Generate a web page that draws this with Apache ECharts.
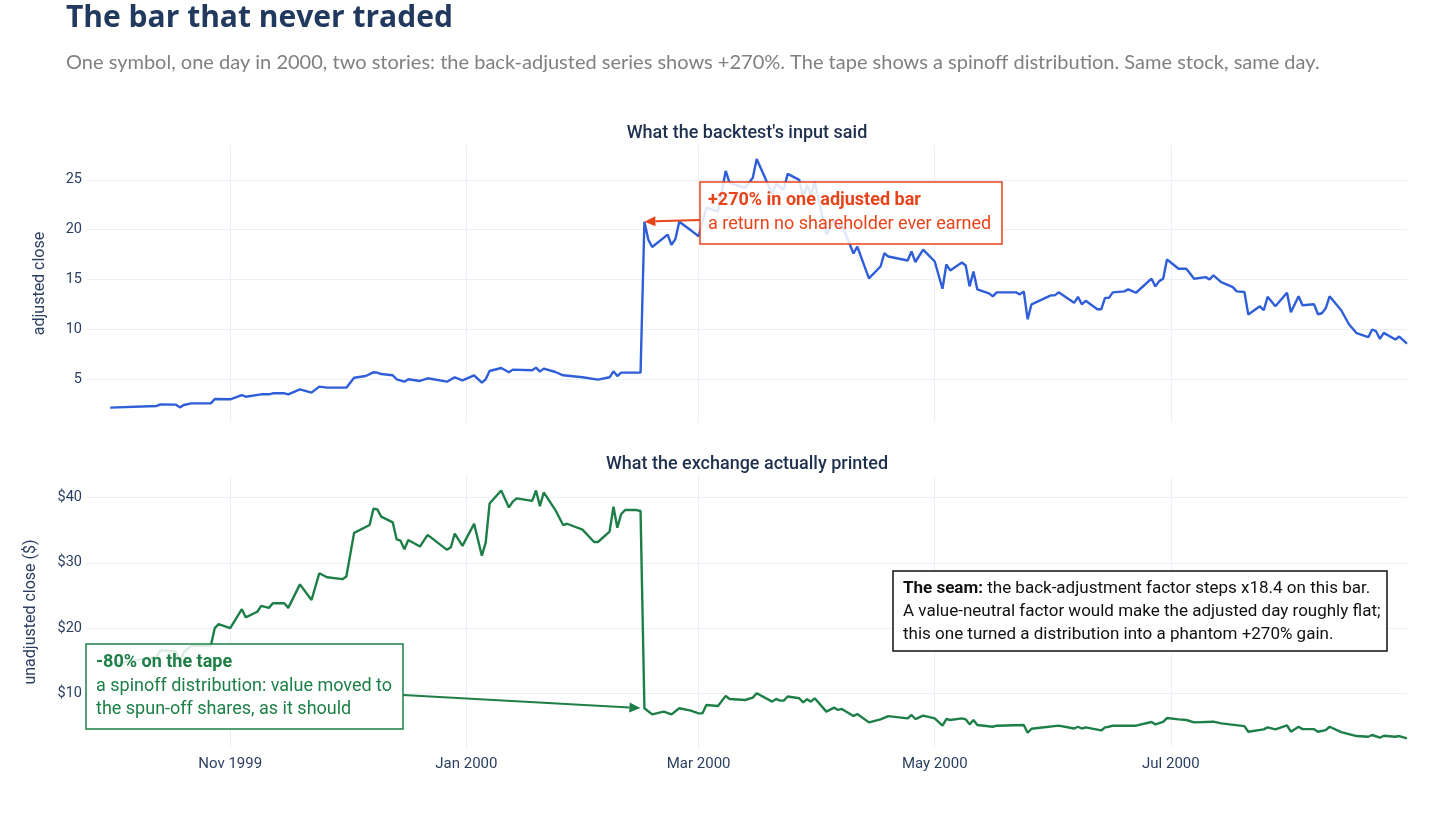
<!DOCTYPE html>
<html>
<head>
<meta charset="utf-8">
<title>The bar that never traded</title>
<script src="https://cdn.jsdelivr.net/npm/echarts@6/dist/echarts.min.js"></script>
<style>
  html, body { margin: 0; padding: 0; background: #fff; }
  #chart { width: 1456px; height: 819px; }
</style>
</head>
<body>
<div id="chart"></div>
<script>
// adjusted (back-adjusted) close
const adjDates = [
  '1999-10-01','1999-10-13','1999-10-14','1999-10-18','1999-10-19','1999-10-20','1999-10-22','1999-10-27','1999-10-28',
  '1999-11-01','1999-11-04','1999-11-05','1999-11-09','1999-11-11','1999-11-12','1999-11-15','1999-11-16','1999-11-19',
  '1999-11-22','1999-11-24','1999-11-26','1999-12-01','1999-12-03','1999-12-06','1999-12-08','1999-12-09','1999-12-10',
  '1999-12-13','1999-12-14','1999-12-16','1999-12-17','1999-12-20','1999-12-22','1999-12-27','1999-12-29','1999-12-31',
  '2000-01-03','2000-01-05','2000-01-06','2000-01-07','2000-01-10','2000-01-12','2000-01-13','2000-01-18','2000-01-19',
  '2000-01-20','2000-01-21','2000-01-24','2000-01-26','2000-01-31','2000-02-04','2000-02-07','2000-02-08','2000-02-09',
  '2000-02-10','2000-02-15','2000-02-16','2000-02-17','2000-02-18','2000-02-22','2000-02-23','2000-02-24','2000-02-25',
  '2000-02-28','2000-03-01','2000-03-03','2000-03-06','2000-03-08','2000-03-09','2000-03-13','2000-03-15','2000-03-16',
  '2000-03-20','2000-03-21','2000-03-23','2000-03-24','2000-03-27','2000-03-28','2000-03-29','2000-03-30','2000-03-31',
  '2000-04-03','2000-04-05','2000-04-06','2000-04-07','2000-04-10','2000-04-11','2000-04-14','2000-04-17','2000-04-18',
  '2000-04-19','2000-04-24','2000-04-25','2000-04-26','2000-04-28','2000-05-01','2000-05-03','2000-05-04','2000-05-05',
  '2000-05-08','2000-05-09','2000-05-10','2000-05-11','2000-05-12','2000-05-15','2000-05-16','2000-05-17','2000-05-22',
  '2000-05-23','2000-05-24','2000-05-25','2000-05-26','2000-05-31','2000-06-01','2000-06-02','2000-06-06','2000-06-07',
  '2000-06-08','2000-06-09','2000-06-12','2000-06-13','2000-06-14','2000-06-15','2000-06-16','2000-06-19','2000-06-20',
  '2000-06-22','2000-06-26','2000-06-27','2000-06-28','2000-06-29','2000-06-30','2000-07-03','2000-07-05','2000-07-07',
  '2000-07-10','2000-07-11','2000-07-12','2000-07-14','2000-07-17','2000-07-18','2000-07-20','2000-07-21','2000-07-24',
  '2000-07-25','2000-07-26','2000-07-28','2000-07-31','2000-08-01','2000-08-03','2000-08-04','2000-08-07','2000-08-08',
  '2000-08-09','2000-08-10','2000-08-11','2000-08-14','2000-08-16','2000-08-18','2000-08-21','2000-08-22','2000-08-23',
  '2000-08-24','2000-08-25','2000-08-28','2000-08-29','2000-08-31'
];
const adjClose = [
  2.12, 2.29, 2.45, 2.42, 2.15, 2.39, 2.55, 2.55, 2.99,
  2.96, 3.39, 3.22, 3.46, 3.46, 3.56, 3.56, 3.46, 3.96,
  3.63, 4.23, 4.13, 4.13, 5.13, 5.30, 5.67, 5.64, 5.50,
  5.37, 4.97, 4.73, 4.97, 4.80, 5.07, 4.73, 5.17, 4.87,
  5.37, 4.63, 4.97, 5.80, 6.10, 5.67, 5.94, 5.87, 6.14,
  5.74, 6.04, 5.70, 5.37, 5.17, 4.93, 5.17, 5.77, 5.30,
  5.64, 5.64, 20.8, 19.0, 18.25, 19.5, 18.46, 19.06, 20.8,
  19.93, 19.33, 22.2, 21.8, 25.9, 24.7, 24.2, 25.2, 27.1,
  23.6, 24.6, 24.0, 25.6, 25.0, 23.3, 24.5, 23.5, 24.8,
  19.5, 21.0, 20.2, 20.5, 17.6, 18.3, 15.1, 16.3, 17.65,
  17.3, 16.9, 17.8, 16.75, 18.0, 16.8, 14.06, 16.5, 15.9,
  16.7, 16.4, 14.3, 15.8, 14.0, 13.6, 13.3, 13.7, 13.7,
  13.5, 13.8, 11.0, 12.5, 13.4, 13.4, 13.7, 12.65, 13.25,
  12.5, 12.85, 12.0, 12.0, 13.15, 13.15, 13.7, 13.8, 14.0,
  13.66, 15.07, 14.3, 14.83, 15.07, 17.0, 16.07, 16.07, 15.07,
  15.23, 15.0, 15.4, 14.73, 14.23, 13.8, 13.73, 11.48, 12.3,
  11.9, 13.26, 12.3, 13.66, 11.7, 13.3, 12.4, 12.5, 11.5,
  11.6, 12.1, 13.3, 11.9, 10.5, 9.6, 9.2, 9.97, 9.8,
  9.03, 9.63, 8.96, 9.26, 8.56
];

// unadjusted close as printed
const rawDates = [
  '1999-10-01','1999-10-13','1999-10-14','1999-10-18','1999-10-19','1999-10-20','1999-10-22','1999-10-27','1999-10-28',
  '1999-10-29','1999-11-01','1999-11-04','1999-11-05','1999-11-08','1999-11-09','1999-11-11','1999-11-12','1999-11-15',
  '1999-11-16','1999-11-19','1999-11-22','1999-11-24','1999-11-26','1999-11-30','1999-12-01','1999-12-03','1999-12-07',
  '1999-12-08','1999-12-09','1999-12-10','1999-12-13','1999-12-14','1999-12-15','1999-12-16','1999-12-17','1999-12-20',
  '1999-12-22','1999-12-27','1999-12-28','1999-12-29','1999-12-31','2000-01-03','2000-01-05','2000-01-06','2000-01-07',
  '2000-01-10','2000-01-12','2000-01-13','2000-01-14','2000-01-18','2000-01-19','2000-01-20','2000-01-21','2000-01-24',
  '2000-01-26','2000-01-27','2000-01-31','2000-02-03','2000-02-04','2000-02-07','2000-02-08','2000-02-09','2000-02-10',
  '2000-02-11','2000-02-14','2000-02-15','2000-02-16','2000-02-18','2000-02-21','2000-02-23','2000-02-25','2000-02-28',
  '2000-03-01','2000-03-02','2000-03-03','2000-03-06','2000-03-08','2000-03-09','2000-03-13','2000-03-15','2000-03-16',
  '2000-03-20','2000-03-21','2000-03-22','2000-03-23','2000-03-24','2000-03-27','2000-03-28','2000-03-29','2000-03-30',
  '2000-03-31','2000-04-03','2000-04-05','2000-04-06','2000-04-07','2000-04-10','2000-04-11','2000-04-14','2000-04-17',
  '2000-04-19','2000-04-24','2000-04-25','2000-04-26','2000-04-28','2000-05-01','2000-05-03','2000-05-04','2000-05-05',
  '2000-05-08','2000-05-09','2000-05-10','2000-05-11','2000-05-12','2000-05-16','2000-05-17','2000-05-24','2000-05-25',
  '2000-05-26','2000-06-02','2000-06-06','2000-06-07','2000-06-08','2000-06-09','2000-06-13','2000-06-14','2000-06-15',
  '2000-06-16','2000-06-22','2000-06-26','2000-06-27','2000-06-29','2000-06-30','2000-07-03','2000-07-05','2000-07-07',
  '2000-07-12','2000-07-14','2000-07-20','2000-07-21','2000-07-25','2000-07-26','2000-07-28','2000-07-31','2000-08-01',
  '2000-08-03','2000-08-04','2000-08-07','2000-08-08','2000-08-10','2000-08-11','2000-08-14','2000-08-18','2000-08-21',
  '2000-08-22','2000-08-24','2000-08-25','2000-08-28','2000-08-29','2000-08-31'
];
const rawClose = [
  14.4, 15.6, 16.6, 16.4, 14.7, 16.3, 17.3, 17.3, 20.0,
  20.6, 20.0, 22.9, 21.65, 22.5, 23.4, 23.1, 23.8, 23.8,
  23.1, 26.7, 24.3, 28.4, 27.8, 27.5, 27.9, 34.6, 35.8,
  38.3, 38.2, 37.1, 36.2, 33.6, 33.4, 32.1, 33.5, 32.5,
  34.3, 32.0, 32.4, 34.5, 32.6, 36.0, 31.1, 33.1, 39.1,
  41.1, 38.5, 39.4, 39.9, 39.5, 41.1, 38.7, 40.8, 38.1,
  35.8, 36.0, 35.1, 33.2, 33.2, 34.8, 38.6, 35.4, 37.5,
  38.1, 38.1, 37.95, 7.7, 6.77, 7.18, 6.77, 7.7, 7.33,
  6.92, 6.92, 8.2, 8.05, 9.6, 9.13, 8.97, 9.33, 10.0,
  8.72, 9.13, 8.87, 8.87, 9.5, 9.23, 8.6, 9.08, 8.72,
  9.23, 7.18, 7.8, 7.44, 7.6, 6.5, 6.82, 5.54, 6.0,
  6.5, 6.15, 6.67, 6.05, 6.56, 6.15, 5.03, 6.05, 5.9,
  6.15, 6.0, 5.23, 5.9, 5.13, 4.87, 5.03, 5.13, 3.95,
  4.56, 5.03, 4.6, 4.87, 4.6, 4.77, 4.3, 4.77, 4.87,
  5.03, 5.03, 5.6, 5.23, 5.6, 6.2, 6.0, 5.9, 5.54,
  5.64, 5.38, 4.97, 4.1, 4.46, 4.77, 4.46, 5.08, 4.1,
  4.87, 4.5, 4.5, 4.1, 4.36, 4.87, 4.05, 3.44, 3.33,
  3.6, 3.18, 3.49, 3.33, 3.44, 3.08
];

const seamDate = '2000-02-16';
const monthTicks = ['1999-11-01', '2000-01-01', '2000-03-01', '2000-05-01', '2000-07-01'];
const adjTicks = [5, 10, 15, 20, 25];
const rawTicks = [10, 20, 30, 40];
const monthNames = ['Jan','Feb','Mar','Apr','May','Jun','Jul','Aug','Sep','Oct','Nov','Dec'];

// dates become plain millisecond numbers on a value axis
function toTime(s) {
  let p = s.split('-');
  return Date.UTC(+p[0], +p[1] - 1, +p[2]);
}
function zip(dates, vals) {
  return dates.map((d, i) => [toTime(d), vals[i]]);
}

const FONT = 'Roboto, "Noto Sans", sans-serif';
const AXIS_COLOR = '#2a3f5f';
const GRID_COLOR = '#ebf0f8';
const BLUE = '#2f5ed8';
const GREEN = '#1d7f47';
const RED = '#e8441c';

let tickTimes = monthTicks.map(toTime);
let xMin = toTime('1999-09-25');
let xMax = toTime('2000-08-31');

function xAxisFor(gridIndex, showLabels) {
  return {
    type: 'value',
    gridIndex: gridIndex,
    min: xMin,
    max: xMax,
    axisLine: { show: false },
    axisTick: { show: false, customValues: tickTimes },
    splitLine: { show: true, lineStyle: { color: GRID_COLOR, width: 1 } },
    axisLabel: {
      show: showLabels,
      customValues: tickTimes,
      margin: 10,
      color: AXIS_COLOR,
      fontFamily: FONT,
      fontSize: 15,
      formatter: function (v) {
        let d = new Date(v);
        return monthNames[d.getUTCMonth()] + ' ' + d.getUTCFullYear();
      }
    }
  };
}

function yAxisFor(gridIndex, min, max, ticks, name, gap, prefix) {
  return {
    type: 'value',
    gridIndex: gridIndex,
    min: min,
    max: max,
    name: name,
    nameLocation: 'middle',
    nameGap: gap,
    nameTextStyle: { color: AXIS_COLOR, fontFamily: FONT, fontSize: 16 },
    axisLine: { show: false },
    axisTick: { show: false, customValues: ticks },
    splitLine: { show: true, lineStyle: { color: GRID_COLOR, width: 1 } },
    axisLabel: {
      customValues: ticks,
      margin: 5,
      color: AXIS_COLOR,
      fontFamily: FONT,
      fontSize: 14.5,
      formatter: function (v) { return prefix + v; }
    }
  };
}

let chart = echarts.init(document.getElementById('chart'));

let option = {
  animation: false,
  backgroundColor: '#ffffff',
  title: [
    {
      text: 'The bar that never traded',
      left: 66, top: 3, padding: 0,
      textStyle: { fontFamily: '"Open Sans", Lato, sans-serif', fontSize: 30, fontWeight: 'bold', color: '#21395d' }
    },
    {
      text: 'One symbol, one day in 2000, two stories: the back-adjusted series shows +270%. The tape shows a spinoff distribution. Same stock, same day.',
      left: 66, top: 53, padding: 0,
      textStyle: { fontFamily: 'Lato, "Open Sans", sans-serif', fontSize: 20, fontWeight: 'normal', color: '#808080' }
    },
    {
      text: "What the backtest's input said",
      left: 747, top: 124, padding: 0, textAlign: 'center',
      textStyle: { fontFamily: FONT, fontSize: 18, fontWeight: 500, color: '#1f2f4e' }
    },
    {
      text: 'What the exchange actually printed',
      left: 747, top: 455, padding: 0, textAlign: 'center',
      textStyle: { fontFamily: FONT, fontSize: 18, fontWeight: 500, color: '#1f2f4e' }
    }
  ],
  grid: [
    { left: 87, right: 49, top: 145, height: 277 },
    { left: 87, right: 49, top: 477, height: 270 }
  ],
  xAxis: [xAxisFor(0, false), xAxisFor(1, true)],
  yAxis: [
    yAxisFor(0, 0.68, 28.5, adjTicks, 'adjusted close', 39, ''),
    yAxisFor(1, 1.76, 43.17, rawTicks, 'unadjusted close ($)', 48, '$')
  ],
  series: [
    {
      name: 'adjusted close',
      type: 'line',
      xAxisIndex: 0, yAxisIndex: 0,
      data: zip(adjDates, adjClose),
      showSymbol: false,
      lineStyle: { color: BLUE, width: 2.4 },
      itemStyle: { color: BLUE },
      z: 2
    },
    {
      name: 'unadjusted close',
      type: 'line',
      xAxisIndex: 1, yAxisIndex: 1,
      data: zip(rawDates, rawClose),
      showSymbol: false,
      lineStyle: { color: GREEN, width: 2.4 },
      itemStyle: { color: GREEN },
      z: 2
    }
  ]
};
chart.setOption(option);

function arrowParts(x1, y1, x2, y2, color, standoff) {
  let ang = Math.atan2(y2 - y1, x2 - x1);
  let tx = x2 - standoff * Math.cos(ang), ty = y2 - standoff * Math.sin(ang);
  let len = 11, half = 5;
  let bx = tx - len * Math.cos(ang), by = ty - len * Math.sin(ang);
  return [
    { type: 'line', z: 101, shape: { x1: x1, y1: y1, x2: bx, y2: by }, style: { stroke: color, lineWidth: 2 } },
    { type: 'polygon', z: 101, shape: { points: [[tx, ty], [bx - half * Math.sin(ang), by + half * Math.cos(ang)], [bx + half * Math.sin(ang), by - half * Math.cos(ang)]] }, style: { fill: color } }
  ];
}

function boxParts(x, y, w, h, color, lineWidth) {
  return { type: 'rect', z: 100, shape: { x: x, y: y, width: w, height: h }, style: { fill: 'rgba(255,255,255,0.85)', stroke: color, lineWidth: lineWidth } };
}

function textParts(x, y, text, color, size, lh) {
  return {
    type: 'text', z: 102, x: x, y: y,
    style: {
      text: text, fill: color, fontFamily: FONT, fontSize: size, lineHeight: lh,
      align: 'left', verticalAlign: 'top',
      rich: { b: { fontWeight: 'bold', fill: color, fontFamily: FONT, fontSize: size, lineHeight: lh } }
    }
  };
}

let seamIdxAdj = adjDates.indexOf(seamDate);
let seamIdxRaw = rawDates.indexOf(seamDate);
let adjTip = chart.convertToPixel({ gridIndex: 0 }, [toTime(seamDate), adjClose[seamIdxAdj]]);
let rawTip = chart.convertToPixel({ gridIndex: 1 }, [toTime(seamDate), rawClose[seamIdxRaw]]);

let graphics = [];
graphics.push(boxParts(700, 182, 302, 62, RED, 1.5));
graphics.push(textParts(708, 188, '{b|+270% in one adjusted bar}\na return no shareholder ever earned', RED, 18, 24));
graphics = graphics.concat(arrowParts(700, 220, adjTip[0], adjTip[1], RED, 0));

graphics.push(boxParts(86, 644, 317, 85, GREEN, 1.5));
graphics.push(textParts(96, 651, '{b|-80% on the tape}\na spinoff distribution: value moved to\nthe spun-off shares, as it should', GREEN, 18, 23.5));
graphics = graphics.concat(arrowParts(403, 695, rawTip[0], rawTip[1], GREEN, 4));

graphics.push(boxParts(893, 571, 494, 80, '#111111', 1.5));
graphics.push(textParts(903, 577, '{b|The seam:} the back-adjustment factor steps x18.4 on this bar.\nA value-neutral factor would make the adjusted day roughly flat;\nthis one turned a distribution into a phantom +270% gain.', '#111111', 17, 23));

chart.setOption({ graphic: graphics });
</script>
</body>
</html>
